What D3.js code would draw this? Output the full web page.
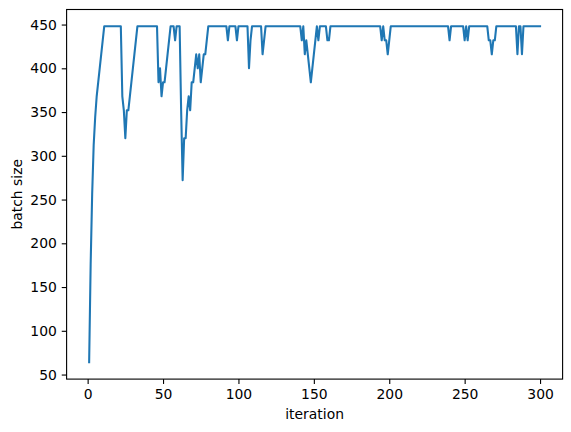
<!DOCTYPE html>
<html>
<head>
<meta charset="utf-8">
<script src="https://cdn.jsdelivr.net/npm/d3@7"></script>
<style>
  body { margin: 0; background: #fff; }
  svg { display: block; }
</style>
</head>
<body>
<script>
// batch size per iteration (iteration = index + 1)
var batchSize = [
  64, 176, 256, 312, 344, 368, 384, 400, 416, 432, 448, 448, 448, 448, 448, 448, 448, 448, 448, 448,
  448, 448, 368, 352, 320, 352, 352, 368, 384, 400, 416, 432, 448, 448, 448, 448, 448, 448, 448, 448,
  448, 448, 448, 448, 448, 448, 384, 400, 368, 384, 384, 400, 416, 432, 448, 448, 448, 432, 448, 448,
  448, 352, 272, 320, 320, 352, 368, 352, 384, 384, 400, 416, 400, 416, 384, 400, 416, 416, 432, 448,
  448, 448, 448, 448, 448, 448, 448, 448, 448, 448, 448, 448, 432, 448, 448, 448, 448, 448, 432, 448,
  448, 448, 448, 448, 448, 448, 400, 432, 448, 448, 448, 448, 448, 448, 448, 416, 432, 448, 448, 448,
  448, 448, 448, 448, 448, 448, 448, 448, 448, 448, 448, 448, 448, 448, 448, 448, 448, 448, 448, 448,
  448, 432, 448, 416, 432, 416, 400, 384, 400, 416, 432, 448, 432, 448, 448, 448, 448, 448, 432, 432,
  448, 448, 448, 448, 448, 448, 448, 448, 448, 448, 448, 448, 448, 448, 448, 448, 448, 448, 448, 448,
  448, 448, 448, 448, 448, 448, 448, 448, 448, 448, 448, 448, 448, 448, 432, 448, 432, 432, 416, 432,
  448, 448, 448, 448, 448, 448, 448, 448, 448, 448, 448, 448, 448, 448, 448, 448, 448, 448, 448, 448,
  448, 448, 448, 448, 448, 448, 448, 448, 448, 448, 448, 448, 448, 448, 448, 448, 448, 448, 448, 432,
  448, 448, 448, 448, 448, 448, 448, 448, 448, 432, 448, 432, 448, 448, 448, 448, 448, 448, 448, 448,
  448, 448, 448, 448, 448, 432, 432, 416, 432, 432, 448, 448, 448, 448, 448, 448, 448, 448, 448, 448,
  448, 448, 448, 448, 416, 448, 448, 416, 448, 448, 448, 448, 448, 448, 448, 448, 448, 448, 448, 448
];

var xTicks = [0, 50, 100, 150, 200, 250, 300];
var yTicks = [50, 100, 150, 200, 250, 300, 350, 400, 450];

var xLabel = "iteration";
var yLabel = "batch size";

//SVG dimensions
var svgWidth = 571;
var svgHeight = 432;

// plot area (matplotlib-like axes box)
var margin = { top: 9.5, left: 66.6 };
var chartWidth = 496;
var chartHeight = 369.6;

var fontSize = 13.9;
var tickLen = 4.86;

var svg = d3.select("body")
  .append("svg")
  .attr("width", svgWidth)
  .attr("height", svgHeight);

var chartGroup = svg.append("g")
  .attr("transform", `translate(${margin.left}, ${margin.top})`);

// 5% margins like matplotlib autoscale
var n = batchSize.length;
var xPad = (n - 1) * 0.05;
var yMin = d3.min(batchSize), yMax = d3.max(batchSize);
var yPad = (yMax - yMin) * 0.05;

var xScale = d3.scaleLinear()
  .domain([1 - xPad, n + xPad])
  .range([0, chartWidth]);

var yScale = d3.scaleLinear()
  .domain([yMin - yPad, yMax + yPad])
  .range([chartHeight, 0]);

// the line
var line = d3.line()
  .x((d, i) => xScale(i + 1))
  .y(d => yScale(d));

chartGroup.append("path")
  .datum(batchSize)
  .attr("d", line)
  .attr("fill", "none")
  .attr("stroke", "#1f77b4")
  .attr("stroke-width", 2.08)
  .attr("stroke-linejoin", "round")
  .attr("stroke-linecap", "square");

// axes
var bottomAxis = d3.axisBottom(xScale)
  .tickValues(xTicks)
  .tickSize(tickLen)
  .tickPadding(tickLen);

var leftAxis = d3.axisLeft(yScale)
  .tickValues(yTicks)
  .tickSize(tickLen)
  .tickPadding(tickLen);

var xAxisG = chartGroup.append("g")
  .attr("transform", `translate(0, ${chartHeight})`)
  .call(bottomAxis);

var yAxisG = chartGroup.append("g")
  .call(leftAxis);

[xAxisG, yAxisG].forEach(function (g) {
  g.select(".domain").remove();
  g.selectAll(".tick line")
    .attr("stroke", "#000")
    .attr("stroke-width", 1.11);
  g.selectAll(".tick text")
    .attr("fill", "#000")
    .style("font-family", "DejaVu Sans")
    .style("font-size", fontSize + "px");
});

// frame (all four spines)
chartGroup.append("rect")
  .attr("width", chartWidth)
  .attr("height", chartHeight)
  .attr("fill", "none")
  .attr("stroke", "#000")
  .attr("stroke-width", 1.11);

// axis labels
svg.append("text")
  .attr("x", margin.left + chartWidth / 2)
  .attr("y", 419)
  .attr("text-anchor", "middle")
  .style("font-family", "DejaVu Sans")
  .style("font-size", fontSize + "px")
  .text(xLabel);

svg.append("text")
  .attr("transform", `translate(21.6, ${margin.top + chartHeight / 2}) rotate(-90)`)
  .attr("text-anchor", "middle")
  .style("font-family", "DejaVu Sans")
  .style("font-size", fontSize + "px")
  .text(yLabel);
</script>
</body>
</html>
